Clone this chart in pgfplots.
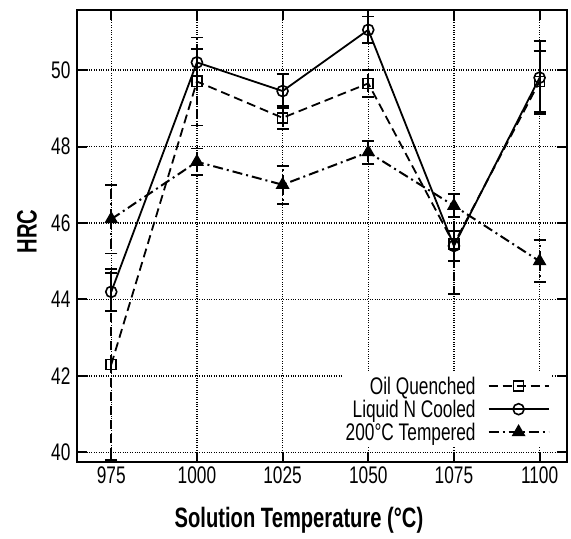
\documentclass[border=0pt]{standalone}
\usepackage{fontspec}
\setmainfont{Liberation Sans}[FakeStretch=0.72]
\usepackage{pgfplots}
\pgfplotsset{compat=1.18}
\usepackage{pgfplotstable}
\pgfplotstableread{
x y e
975 42.3 2.5
1000 49.7 1.15
1025 48.75 0.3
1050 49.65 0.35
1075 45.45 1.3
1100 49.7 0.8
}\oil
\pgfplotstableread{
x y e
975 44.2 0.5
1000 50.2 0.35
1025 49.45 0.45
1050 51.05 0.35
1075 45.4 0.4
1100 49.8 0.95
}\liqn
\pgfplotstableread{
x y e
975 46.1 0.9
1000 47.6 0.35
1025 47.0 0.5
1050 47.85 0.3
1075 46.45 0.3
1100 45.0 0.55
}\temp
\begin{document}
\begin{tikzpicture}
\begin{axis}[
  scale only axis, width=490pt, height=452pt,
  xmin=965, xmax=1108, ymin=39.75, ymax=51.57,
  xtick={975,1000,1025,1050,1075,1100}, ytick={40,42,44,46,48,50},
  /pgf/number format/1000 sep={},
  /pgf/number format/assume math mode=true,
  grid=major, grid style={dotted, line width=1.2pt, black},
  axis line style={line width=2.5pt},
  major tick length=10pt, tick style={line width=2pt, black},
  tick align=inside,
  ticklabel style={font=\fontsize{24}{24}\selectfont},
  yticklabel style={xshift=-3pt},
  xticklabel style={yshift=-1pt},
  xlabel={\textbf{Solution Temperature (°C)}},
  ylabel={\textbf{HRC}},
  label style={font=\fontsize{28}{28}\selectfont},
  xlabel style={at={(axis description cs:0.453,-0.128)}, anchor=center},
  ylabel style={at={(axis description cs:-0.102,0.51)}, anchor=center},
  legend style={at={(0.969,0.036)}, anchor=south east, draw=none, fill=white,
    font=\fontsize{24}{24}\selectfont, row sep=0pt, column sep=10pt, inner sep=2pt},
  legend cell align=right, legend plot pos=right,
  legend image code/.code={\draw[mark repeat=2,mark phase=2,#1] plot coordinates {(0pt,0pt)(30pt,0pt)(60pt,0pt)};},
  error bars/y dir=both, error bars/y explicit,
  error bars/error mark options={rotate=90, mark size=6pt, line width=1.8pt, black},
  error bars/error bar style={line width=2pt, black},
]
\addplot[black, line width=1.8pt, dash pattern=on 9pt off 5pt, mark=square, mark size=5pt,
  mark options={solid, fill=white, line width=1.6pt}]
  table[x=x, y=y, y error=e] {\oil};
\addlegendentry{Oil Quenched}
\addplot[black, line width=1.8pt, mark=o, mark size=5.5pt,
  mark options={solid, fill=white, line width=1.6pt}]
  table[x=x, y=y, y error=e] {\liqn};
\addlegendentry{Liquid N Cooled}
\addplot[black, line width=2pt, dash pattern=on 10pt off 4pt on 2pt off 4pt, mark=triangle*, mark size=6pt,
  mark options={solid, fill=black}]
  table[x=x, y=y, y error=e] {\temp};
\addlegendentry{200°C Tempered}
\end{axis}
\pgfresetboundingbox
\path (current axis.south west) +(-77pt,-77pt) (current axis.north east) +(4pt,10pt);
\end{tikzpicture}
\end{document}
